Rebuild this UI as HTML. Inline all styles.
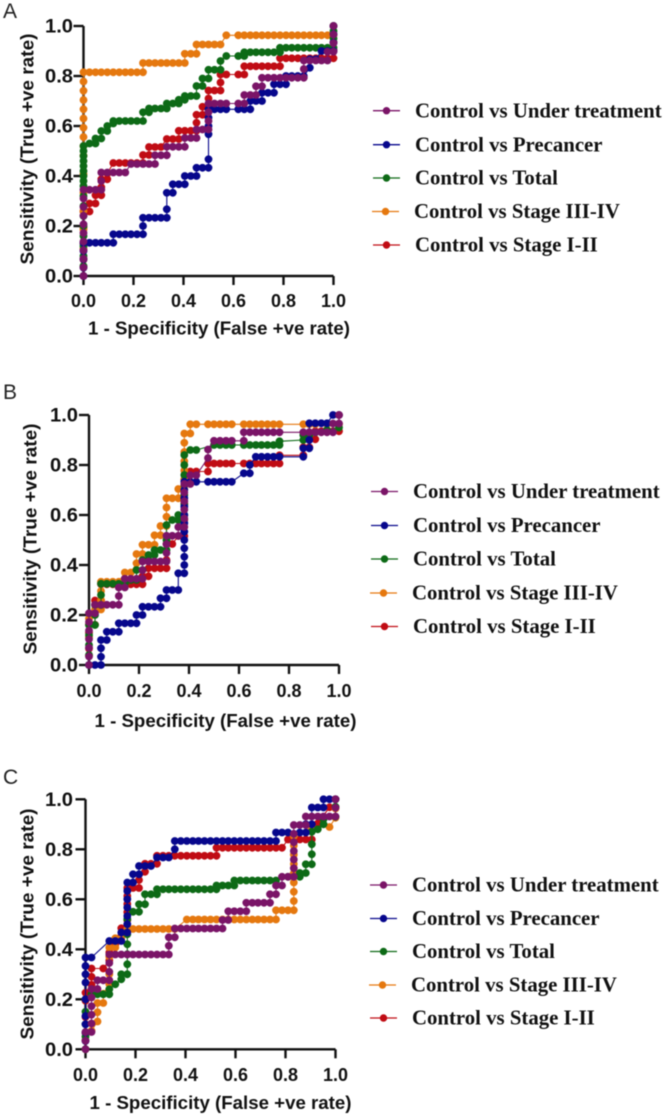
<!DOCTYPE html>
<html lang="en">
<head>
<meta charset="utf-8">
<title>ROC curves</title>
<style>
html,body{margin:0;padding:0;background:#fff;width:666px;height:1114px;overflow:hidden}
svg{display:block;filter:blur(.45px)}
.ytick{font:bold 19px "Liberation Sans",sans-serif;fill:#111}
.xtick{font:bold 18px "Liberation Sans",sans-serif;fill:#111}
.title{font:bold 18px "Liberation Sans",sans-serif;fill:#111}
.leg{font:bold 20.8px "Liberation Serif",serif;fill:#111}
.letter{font:21px "Liberation Sans",sans-serif;fill:#222}
</style>
</head>
<body>
<svg id="chart" xmlns="http://www.w3.org/2000/svg" width="666" height="1114" viewBox="0 0 666 1114"></svg>
<script>
const tickLabels = ["0.0","0.2","0.4","0.6","0.8","1.0"];
const tickValues = [0,0.2,0.4,0.6,0.8,1];
const seriesNames = ["Control vs Under treatment","Control vs Precancer","Control vs Total","Control vs Stage III-IV","Control vs Stage I-II"];
const seriesColors = ["#7a1467","#07078c","#0d6a16","#e5780f","#c00c14"];

/* Panel A */
const aUnder = [[0,0],[0,.034],[0,.069],[0,.103],[0,.138],[0,.172],[0,.207],[0,.241],[0,.276],[0,.31],[0,.345],[.024,.345],[.048,.345],[.071,.345],[.071,.38],[.071,.414],[.095,.414],[.119,.414],[.143,.414],[.167,.414],[.19,.448],[.214,.448],[.238,.448],[.262,.448],[.286,.448],[.286,.483],[.31,.483],[.333,.483],[.333,.517],[.357,.517],[.381,.517],[.405,.517],[.405,.552],[.429,.552],[.452,.552],[.452,.586],[.476,.586],[.5,.586],[.5,.62],[.5,.655],[.5,.69],[.524,.69],[.548,.69],[.571,.69],[.619,.69],[.643,.69],[.643,.724],[.667,.724],[.69,.724],[.69,.759],[.714,.759],[.714,.793],[.738,.793],[.762,.793],[.786,.793],[.81,.793],[.833,.793],[.857,.793],[.881,.793],[.881,.828],[.881,.862],[.905,.862],[.929,.862],[.952,.862],[.976,.862],[.976,.897],[1,.897],[1,.931],[1,.966],[1,1]];
const aPre = [[0,0],[0,.033],[0,.067],[0,.1],[0,.133],[.024,.133],[.048,.133],[.071,.133],[.095,.133],[.119,.133],[.119,.167],[.143,.167],[.167,.167],[.19,.167],[.214,.167],[.238,.167],[.238,.2],[.238,.233],[.262,.233],[.286,.233],[.31,.233],[.333,.233],[.333,.267],[.333,.333],[.357,.333],[.357,.367],[.381,.367],[.405,.367],[.405,.4],[.429,.4],[.452,.4],[.452,.433],[.476,.433],[.5,.433],[.5,.467],[.5,.567],[.5,.6],[.5,.633],[.5,.667],[.524,.667],[.548,.667],[.571,.667],[.619,.667],[.643,.667],[.667,.667],[.667,.7],[.69,.7],[.714,.7],[.714,.733],[.738,.733],[.762,.733],[.762,.767],[.786,.767],[.81,.767],[.81,.8],[.833,.8],[.857,.8],[.881,.8],[.905,.833],[.905,.867],[.929,.867],[.952,.9],[.976,.9],[1,.9],[1,.933],[1,.967],[1,1]];
const aTotal = [[0,0],[0,.04],[0,.08],[0,.12],[0,.16],[0,.2],[0,.24],[0,.28],[0,.32],[0,.36],[0,.38],[0,.4],[0,.42],[0,.44],[0,.46],[0,.48],[0,.5],[0,.52],[.024,.53],[.048,.53],[.048,.55],[.071,.55],[.071,.58],[.095,.58],[.095,.6],[.119,.61],[.119,.62],[.143,.62],[.167,.62],[.19,.62],[.214,.62],[.238,.62],[.238,.655],[.262,.655],[.262,.67],[.286,.67],[.31,.67],[.333,.67],[.333,.69],[.357,.69],[.381,.69],[.381,.705],[.405,.705],[.405,.72],[.429,.72],[.452,.72],[.452,.76],[.476,.76],[.476,.79],[.5,.79],[.5,.825],[.524,.825],[.548,.825],[.548,.86],[.571,.88],[.619,.88],[.643,.88],[.643,.895],[.667,.895],[.69,.895],[.714,.895],[.738,.895],[.762,.895],[.786,.895],[.786,.913],[.81,.913],[.833,.913],[.857,.913],[.881,.913],[.905,.913],[.929,.913],[.952,.913],[.976,.913],[1,.913],[1,.95],[1,.98],[1,1]];
const aLate = [[0,.037],[0,.11],[0,.185],[0,.26],[0,.333],[0,.407],[0,.481],[0,.52],[0,.556],[0,.593],[0,.63],[0,.667],[0,.704],[0,.741],[0,.778],[0,.815],[.024,.815],[.048,.815],[.071,.815],[.095,.815],[.119,.815],[.143,.815],[.167,.815],[.19,.815],[.214,.815],[.238,.815],[.238,.852],[.262,.852],[.286,.852],[.31,.852],[.333,.852],[.357,.852],[.381,.852],[.405,.852],[.405,.889],[.429,.889],[.452,.889],[.452,.926],[.476,.926],[.5,.926],[.524,.926],[.548,.926],[.571,.963],[.619,.963],[.643,.963],[.667,.963],[.69,.963],[.714,.963],[.738,.963],[.762,.963],[.786,.963],[.81,.963],[.833,.963],[.857,.963],[.881,.963],[.905,.963],[.929,.963],[.952,.963],[.976,.963],[1,.963],[1,1]];
const aEarly = [[0,0],[0,.065],[0,.129],[0,.194],[0,.258],[.024,.258],[.024,.29],[.048,.29],[.048,.323],[.071,.323],[.071,.355],[.071,.387],[.095,.387],[.095,.41],[.119,.452],[.143,.452],[.167,.452],[.19,.452],[.214,.452],[.238,.452],[.238,.484],[.262,.484],[.262,.516],[.286,.516],[.31,.516],[.333,.548],[.357,.548],[.381,.548],[.381,.581],[.405,.581],[.429,.581],[.452,.581],[.452,.613],[.452,.645],[.476,.645],[.476,.677],[.5,.677],[.5,.71],[.5,.742],[.524,.742],[.548,.742],[.548,.774],[.548,.806],[.571,.806],[.619,.806],[.643,.806],[.643,.839],[.667,.839],[.69,.839],[.714,.839],[.738,.839],[.762,.839],[.786,.839],[.786,.871],[.81,.871],[.833,.871],[.857,.871],[.881,.871],[.905,.871],[.929,.871],[.952,.871],[.976,.871],[1,.871],[1,.903],[1,.935],[1,1]];

/* Panel B */
const bUnder = [[0,0],[0,.034],[0,.069],[0,.103],[0,.138],[0,.172],[0,.207],[.024,.207],[.024,.241],[.048,.241],[.071,.241],[.095,.241],[.119,.241],[.119,.276],[.119,.31],[.143,.31],[.143,.345],[.167,.345],[.19,.345],[.214,.345],[.214,.379],[.214,.414],[.238,.414],[.262,.414],[.286,.414],[.31,.414],[.31,.448],[.31,.483],[.31,.517],[.333,.517],[.357,.517],[.357,.552],[.381,.552],[.381,.586],[.381,.621],[.381,.655],[.381,.69],[.381,.724],[.405,.724],[.405,.759],[.429,.759],[.476,.828],[.476,.862],[.5,.897],[.524,.897],[.548,.897],[.571,.897],[.619,.897],[.619,.931],[.643,.931],[.667,.931],[.69,.931],[.714,.931],[.738,.931],[.762,.931],[.857,.931],[.881,.931],[.905,.931],[.929,.931],[.952,.931],[.976,.931],[.976,.966],[1,.966],[1,1]];
const bPre = [[0,0],[.024,0],[.048,0],[.048,.033],[.048,.067],[.048,.1],[.071,.1],[.071,.133],[.095,.133],[.119,.133],[.119,.167],[.143,.167],[.167,.167],[.19,.167],[.19,.2],[.214,.2],[.214,.233],[.238,.233],[.262,.233],[.286,.233],[.286,.267],[.31,.267],[.31,.3],[.333,.3],[.357,.3],[.357,.367],[.381,.367],[.381,.4],[.381,.433],[.381,.467],[.381,.5],[.381,.533],[.381,.567],[.381,.6],[.381,.633],[.381,.667],[.381,.7],[.381,.733],[.405,.733],[.429,.733],[.476,.733],[.5,.733],[.524,.733],[.548,.733],[.571,.733],[.619,.767],[.643,.767],[.643,.8],[.667,.833],[.69,.833],[.714,.833],[.738,.833],[.762,.833],[.857,.833],[.857,.867],[.881,.867],[.881,.9],[.881,.967],[.905,.967],[.929,.967],[.952,.967],[.976,1],[1,1]];
const bTotal = [[0,0],[0,.04],[0,.08],[0,.12],[0,.16],[.024,.16],[.024,.2],[.024,.24],[.048,.24],[.048,.28],[.048,.325],[.071,.325],[.095,.325],[.119,.325],[.143,.325],[.167,.34],[.19,.34],[.19,.38],[.214,.38],[.214,.42],[.238,.42],[.238,.44],[.262,.44],[.262,.46],[.286,.46],[.31,.46],[.31,.5],[.31,.56],[.333,.58],[.357,.58],[.357,.6],[.381,.6],[.381,.64],[.381,.68],[.381,.72],[.381,.76],[.381,.8],[.381,.84],[.405,.86],[.429,.86],[.5,.88],[.524,.88],[.548,.88],[.571,.88],[.619,.88],[.643,.88],[.667,.88],[.69,.88],[.714,.88],[.738,.88],[.762,.88],[.762,.895],[.857,.9],[.857,.92],[.881,.92],[.905,.93],[.952,.94],[1,.95]];
const bLate = [[0,.037],[0,.111],[0,.185],[.024,.222],[.048,.222],[.048,.259],[.048,.296],[.048,.333],[.071,.333],[.095,.333],[.119,.333],[.143,.37],[.167,.37],[.19,.407],[.19,.444],[.214,.444],[.214,.481],[.238,.481],[.262,.481],[.262,.519],[.286,.519],[.286,.556],[.31,.556],[.31,.593],[.31,.63],[.31,.667],[.333,.667],[.357,.667],[.357,.704],[.381,.704],[.381,.741],[.381,.778],[.381,.815],[.381,.852],[.381,.889],[.381,.926],[.405,.926],[.405,.963],[.429,.963],[.476,.963],[.5,.963],[.524,.963],[.548,.963],[.571,.963],[.619,.963],[.643,.963],[.667,.963],[.69,.963],[.714,.963],[.738,.963],[.762,.963],[.857,.963],[.881,.963],[.905,.963],[.952,.963],[1,.963],[1,1]];
const bEarly = [[0,.065],[0,.129],[0,.161],[.024,.161],[.024,.258],[.048,.258],[.048,.323],[.071,.323],[.095,.323],[.119,.323],[.143,.323],[.167,.323],[.19,.323],[.214,.323],[.214,.355],[.238,.355],[.238,.387],[.262,.387],[.286,.387],[.31,.387],[.31,.42],[.31,.484],[.333,.484],[.357,.516],[.381,.516],[.381,.581],[.381,.645],[.381,.742],[.405,.774],[.429,.774],[.476,.774],[.476,.806],[.5,.806],[.524,.806],[.548,.806],[.571,.806],[.619,.806],[.643,.806],[.667,.806],[.69,.806],[.714,.806],[.738,.806],[.762,.806],[.762,.839],[.857,.839],[.857,.871],[.881,.871],[.881,.903],[.905,.903],[.905,.935],[.929,.935],[.952,.935],[.976,.935],[1,.935]];

/* Panel C */
const cUnder = [[0,0],[0,.034],[0,.069],[.024,.069],[.024,.103],[.024,.138],[.024,.172],[.024,.207],[.024,.241],[.048,.241],[.048,.276],[.071,.276],[.095,.276],[.095,.31],[.095,.345],[.095,.379],[.119,.379],[.143,.379],[.167,.379],[.19,.379],[.214,.379],[.238,.379],[.262,.379],[.286,.379],[.31,.379],[.333,.379],[.333,.414],[.333,.448],[.357,.448],[.357,.483],[.381,.483],[.405,.483],[.429,.483],[.452,.483],[.476,.483],[.5,.483],[.524,.483],[.548,.483],[.548,.517],[.571,.517],[.571,.552],[.595,.552],[.619,.552],[.643,.552],[.643,.586],[.667,.586],[.69,.586],[.714,.586],[.738,.586],[.738,.62],[.762,.62],[.762,.655],[.786,.655],[.786,.69],[.81,.69],[.833,.69],[.833,.724],[.833,.759],[.833,.793],[.833,.828],[.833,.862],[.833,.897],[.857,.897],[.881,.897],[.881,.931],[.905,.931],[.929,.931],[.952,.931],[.976,.931],[1,.931],[1,.966],[1,1]];
const cPre = [[0,.033],[0,.067],[0,.1],[0,.133],[0,.2],[0,.267],[0,.3],[0,.333],[0,.367],[.024,.367],[.095,.433],[.119,.433],[.143,.433],[.143,.467],[.167,.467],[.167,.5],[.167,.533],[.167,.567],[.167,.6],[.167,.633],[.167,.667],[.19,.667],[.19,.7],[.214,.7],[.214,.733],[.238,.733],[.262,.733],[.286,.767],[.31,.767],[.333,.767],[.357,.8],[.357,.833],[.381,.833],[.405,.833],[.429,.833],[.452,.833],[.476,.833],[.5,.833],[.524,.833],[.548,.833],[.571,.833],[.595,.833],[.619,.833],[.643,.833],[.667,.833],[.69,.833],[.714,.833],[.738,.833],[.762,.833],[.762,.867],[.786,.867],[.81,.867],[.857,.867],[.881,.867],[.881,.9],[.905,.9],[.905,.967],[.929,.967],[.952,.967],[.952,1],[.976,1],[1,1]];
const cTotal = [[0,0],[0,.05],[0,.1],[0,.15],[0,.2],[.024,.22],[.048,.22],[.071,.22],[.095,.22],[.095,.24],[.119,.26],[.143,.28],[.143,.3],[.167,.3],[.167,.34],[.167,.38],[.167,.42],[.167,.46],[.167,.52],[.19,.55],[.214,.55],[.214,.58],[.238,.58],[.238,.62],[.262,.62],[.286,.62],[.286,.64],[.31,.64],[.333,.64],[.357,.64],[.381,.64],[.405,.64],[.429,.64],[.452,.64],[.476,.64],[.5,.64],[.524,.64],[.524,.655],[.548,.655],[.571,.655],[.595,.655],[.595,.675],[.619,.675],[.643,.675],[.667,.675],[.69,.675],[.714,.675],[.738,.675],[.762,.675],[.81,.69],[.857,.69],[.857,.705],[.881,.705],[.881,.74],[.905,.74],[.905,.78],[.905,.82],[.905,.87],[.929,.88],[.952,.9],[.952,.92],[1,.93],[1,.97],[1,1]];
const cLate = [[0,.037],[.024,.074],[.048,.111],[.048,.148],[.048,.185],[.071,.185],[.071,.222],[.095,.26],[.095,.3],[.095,.37],[.095,.407],[.119,.407],[.119,.444],[.143,.444],[.167,.481],[.19,.481],[.214,.481],[.238,.481],[.262,.481],[.286,.481],[.31,.481],[.333,.481],[.357,.481],[.405,.519],[.429,.519],[.452,.519],[.476,.519],[.5,.519],[.524,.519],[.548,.519],[.571,.519],[.595,.519],[.619,.519],[.643,.519],[.667,.519],[.69,.519],[.714,.519],[.738,.519],[.762,.519],[.762,.556],[.786,.556],[.81,.556],[.833,.556],[.833,.593],[.833,.63],[.833,.667],[.833,.704],[.833,.741],[.833,.778],[.833,.815],[.833,.852],[.905,.889],[.976,.889],[1,.926],[1,.963],[1,1]];
const cEarly = [[0,0],[0,.065],[0,.129],[0,.194],[0,.226],[.024,.258],[.024,.29],[.024,.323],[.071,.323],[.095,.355],[.095,.387],[.119,.42],[.143,.452],[.143,.484],[.167,.484],[.167,.516],[.167,.548],[.167,.581],[.167,.613],[.167,.645],[.19,.645],[.214,.645],[.214,.677],[.238,.71],[.238,.742],[.262,.742],[.286,.742],[.286,.774],[.31,.774],[.333,.774],[.357,.774],[.381,.774],[.405,.774],[.429,.774],[.452,.774],[.476,.774],[.5,.774],[.524,.774],[.524,.806],[.548,.806],[.571,.806],[.595,.806],[.619,.806],[.643,.806],[.667,.806],[.69,.806],[.714,.806],[.738,.806],[.762,.806],[.786,.806],[.81,.839],[.833,.839],[.857,.839],[.881,.839],[.905,.839],[.905,.871],[.929,.903],[.976,.968],[1,.968],[1,1]];

const NS = "http://www.w3.org/2000/svg";
const root = document.getElementById("chart");

function make(parent, tag, attrs){
  const el = document.createElementNS(NS, tag);
  for (const k in attrs) el.setAttribute(k, attrs[k]);
  parent.appendChild(el);
  return el;
}

const panels = [
  {id:"a",letter:"A",lx:3,ly:18,x0:83.5,y0:276,xt:307,tx:219,ty:334.5,yt:27,ytc:149,yr:73,lgx:373,lgt:415,lgy:[110.7,144.7,178,211.5,245],series:[aUnder,aPre,aTotal,aLate,aEarly]},
  {id:"b",letter:"B",lx:3,ly:399,x0:89,y0:665,xt:697,tx:225.5,ty:727,yt:30,ytc:539,yr:78,lgx:371,lgt:413,lgy:[491.5,525.5,559,593,626.5],series:[bUnder,bPre,bTotal,bLate,bEarly]},
  {id:"c",letter:"C",lx:3,ly:784,x0:85.5,y0:1049.3,xt:1081,tx:220.5,ty:1109,yt:27,ytc:924,yr:73,lgx:370,lgt:412,lgy:[885,918.5,951.5,985,1018],series:[cUnder,cPre,cTotal,cLate,cEarly]}
];

const plotSize = 250;
const drawOrder = [4,3,2,1,0];

panels.forEach(function(p){
  const xScale = function(v){ return p.x0 + v * plotSize; };
  const yScale = function(v){ return p.y0 - v * plotSize; };
  const g = make(root, "g", {});
  
  

  const letter = make(g, "text", {x:p.lx, y:p.ly, "class":"letter"});
  letter.textContent = p.letter;
  
  

  const axes = make(g, "path", {
    d:"M"+xScale(0)+" "+yScale(1)+"V"+yScale(0)+"H"+xScale(1),
    fill:"none", stroke:"#111", "stroke-width":2.4
  });
  
  

  tickValues.forEach(function(v,i){
    const yTick = make(g, "line", {x1:p.x0-10, x2:p.x0, y1:yScale(v), y2:yScale(v), stroke:"#111", "stroke-width":2.4});
    
    
    const xTick = make(g, "line", {x1:xScale(v), x2:xScale(v), y1:p.y0, y2:p.y0+9, stroke:"#111", "stroke-width":2.4});
    
    
    const yLab = make(g, "text", {x:p.yr-28, y:yScale(v)+6.5, "class":"ytick", textLength:28, lengthAdjust:"spacingAndGlyphs"});
    yLab.textContent = tickLabels[i];
    
    
    const xLab = make(g, "text", {x:xScale(v)-12.5, y:p.xt, "class":"xtick", textLength:25, lengthAdjust:"spacingAndGlyphs"});
    xLab.textContent = tickLabels[i];
    
    
  });

  const xTitle = make(g, "text", {x:p.tx-131, y:p.ty, "class":"title", textLength:262, lengthAdjust:"spacingAndGlyphs"});
  xTitle.textContent = "1 - Specificity (False +ve rate)";
  
  

  const yTitle = make(g, "text", {x:0, y:0, "class":"title", textLength:231, lengthAdjust:"spacingAndGlyphs",
    transform:"translate("+(p.yt+6.5)+","+(p.ytc+115.5)+") rotate(-90)"});
  yTitle.textContent = "Sensitivity (True +ve rate)";
  
  

  drawOrder.forEach(function(si){
    const pts = p.series[si];
    const sg = make(g, "g", {fill:seriesColors[si]});
    
    
    const d = pts.map(function(q,i){ return (i?"L":"M")+xScale(q[0]).toFixed(1)+" "+yScale(q[1]).toFixed(1); }).join("");
    const ln = make(sg, "path", {d:d, fill:"none", stroke:seriesColors[si], "stroke-width":1.1});
    
    
    pts.forEach(function(q){
      const c = make(sg, "circle", {cx:xScale(q[0]).toFixed(1), cy:yScale(q[1]).toFixed(1), r:3.9});
      
      
    });
  });

  seriesNames.forEach(function(name,i){
    const y = p.lgy[i];
    const off = i === 3 ? -1 : 0;
    const lg = make(g, "g", {});
    
    
    const sw = make(lg, "line", {x1:p.lgx+off, x2:p.lgx+27+off, y1:y, y2:y, stroke:seriesColors[i], "stroke-width":1.3});
    
    
    const dot = make(lg, "circle", {cx:p.lgx+13.5+off, cy:y, r:3.7, fill:seriesColors[i]});
    
    
    const txt = make(lg, "text", {x:p.lgt+off, y:y+6.6, "class":"leg"});
    txt.textContent = name;
    
    
  });
});
</script>
</body>
</html>
